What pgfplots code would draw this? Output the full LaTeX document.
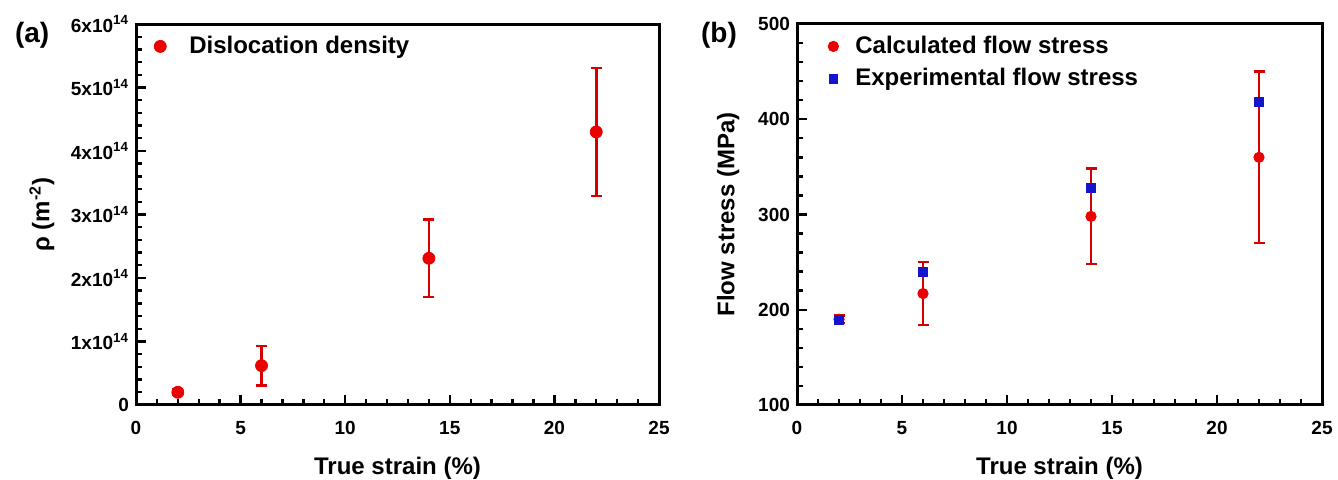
\documentclass[border=0pt]{standalone}
\usepackage{fontspec}
\setmainfont{Liberation Sans}
\usepackage{pgfplots}
\usepackage{pgfplotstable}
\pgfplotsset{compat=1.18}
\definecolor{mred}{RGB}{235,0,0}
\definecolor{ered}{RGB}{215,0,0}
\definecolor{mblue}{RGB}{20,20,205}

\pgfplotstableread{
x y e
2 0.20 0.04
6 0.62 0.31
14 2.31 0.61
22 4.30 1.01
}\densitydata

\pgfplotstableread{
x y e
2 190 4
6 217 33
14 298 50
22 360 90
}\calcdata

\pgfplotstableread{
x y
2 189
6 240
14 328
22 418
}\expdata

\pgfplotsset{
  legimg/.style={legend image code/.code={\path[draw=none, fill=none] (-3pt,0pt) rectangle (#1,0pt); \draw[##1, only marks] plot coordinates {(0pt,0pt)};}},
  common/.style={
    scale only axis,
    anchor=south west,
    xmin=0, xmax=25,
    xtick={0,5,10,15,20,25},
    xticklabels={0,5,10,15,20,25},
    minor x tick num=4,
    minor y tick num=4,
    tick align=inside,
    xtick pos=bottom,
    ytick pos=left,
    axis line style={line width=1.5pt},
    major tick length=5pt,
    minor tick length=3pt,
    every tick/.style={line width=1.2pt, black},
    tick label style={font=\bfseries\fontsize{9.5}{10}\selectfont},
    xticklabel style={yshift=-4.5pt},
    label style={font=\bfseries\fontsize{12}{14}\selectfont},
    legend cell align=left,
    legend style={draw=none, fill=none, font=\bfseries\fontsize{12}{13}\selectfont,
      anchor=north west, row sep=2pt},
    clip=false,
  },
}

\begin{document}
\begin{tikzpicture}
\path[use as bounding box] (0pt,0pt) rectangle (669pt,240pt);

\begin{axis}[common,
  at={(68pt,37.5pt)}, width=261.5pt, height=190.5pt,
  ymin=0, ymax=6,
  ytick={0,1,2,3,4,5,6},
  yticklabels={0,1x10\textsuperscript{14},2x10\textsuperscript{14},3x10\textsuperscript{14},4x10\textsuperscript{14},5x10\textsuperscript{14},6x10\textsuperscript{14}},
  xlabel={True strain (\%)},
  ylabel={ρ (m\textsuperscript{-2})},
  xlabel style={at={(axis description cs:0.5,-0.165)}, anchor=center},
  ylabel style={at={(axis description cs:-0.18,0.5)}, anchor=center},
  legend style={at={(axis description cs:0.0227,0.99)}},
]
\addplot[only marks, mark=*, mark size=3pt, mark options={fill=mred, draw=mred, solid},
  legimg=12.5pt,
  error bars/.cd, y dir=both, y explicit,
  error bar style={line width=1.3pt, ered},
  error mark options={rotate=90, mark size=2.75pt, line width=1.3pt, ered}]
  table[x=x, y=y, y error=e] {\densitydata};
\addlegendentry{Dislocation density}
\end{axis}

\begin{axis}[common,
  at={(398.5pt,37.5pt)}, width=262.5pt, height=190.5pt,
  ymin=100, ymax=500,
  ytick={100,200,300,400,500},
  yticklabels={100,200,300,400,500},
  xlabel={True strain (\%)},
  ylabel={Flow stress (MPa)},
  xlabel style={at={(axis description cs:0.5,-0.165)}, anchor=center},
  ylabel style={at={(axis description cs:-0.131,0.5)}, anchor=center},
  legend style={at={(axis description cs:0.0456,0.99)}},
]
\addplot[only marks, mark=*, mark size=2.6pt, mark options={fill=mred, draw=mred, solid},
  legimg=9pt,
  error bars/.cd, y dir=both, y explicit,
  error bar style={line width=1.3pt, ered},
  error mark options={rotate=90, mark size=2.75pt, line width=1.3pt, ered}]
  table[x=x, y=y, y error=e] {\calcdata};
\addlegendentry{Calculated flow stress}
\addplot[only marks, mark=square*, mark size=2.2pt, mark options={fill=mblue, draw=mblue, solid},
  legimg=9pt]
  table[x=x, y=y] {\expdata};
\addlegendentry{Experimental flow stress}
\end{axis}

\node[anchor=west, font=\bfseries\fontsize{14}{16}\selectfont] at (4pt,222.5pt) {(a)};
\node[anchor=west, font=\bfseries\fontsize{14}{16}\selectfont] at (347pt,222.5pt) {(b)};
\end{tikzpicture}
\end{document}
